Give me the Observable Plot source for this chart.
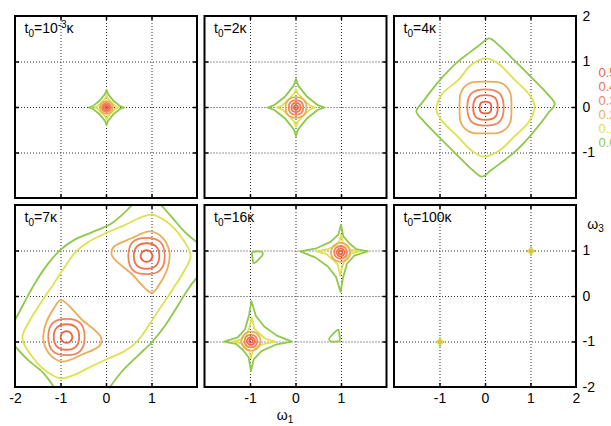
<!DOCTYPE html>
<html><head><meta charset="utf-8">
<script src="https://cdn.jsdelivr.net/npm/d3@7"></script>
<script src="https://cdn.jsdelivr.net/npm/@observablehq/plot@0.6"></script>
<style>html,body{margin:0;padding:0;background:#fff;overflow:hidden}svg{display:block}</style>
</head><body><div id="chart"></div>
<script>
// ---------- data ----------
const levels = ["0.5","0.4","0.3","0.2","0.1","0.0"];
const levelColors = ["#ef5f3f","#f0704c","#f0855a","#e9ad5c","#dde24c","#8fc84a"];
const panelCol = [0,1,2,0,1,2];
const panelRow = [0,0,0,1,1,1];
const titleMain = ["10","2","4","7","16","100"];
const titleSup  = ["-3","","","","",""];
const gridValues = [-1,0,1];
const bottomTickLabels = [["-2","-1","0","1"],["-1","0","1"],["-1","0","1","2"]];
const rightTickLabelsTop = ["2","1","0","-1"];
const rightTickLabelsBottom = ["1","0","-1","-2"];
const xAxisName = ["ω","1"];
const yAxisName = ["ω","3"];

// contours: [level, kind (S = star, C = smooth closed, O = open), x,y pairs]
const panel1 = [
 ["0.0","S",[0,.39, .03,.3, .15,.15, .3,.03, .39,0, .3,-.03, .15,-.15, .03,-.3, 0,-.39, -.03,-.3, -.15,-.15, -.3,-.03, -.39,0, -.3,.03, -.15,.15, -.03,.3]],
 ["0.1","S",[0,.27, .025,.2, .11,.11, .2,.025, .27,0, .2,-.025, .11,-.11, .025,-.2, 0,-.27, -.025,-.2, -.11,-.11, -.2,-.025, -.27,0, -.2,.025, -.11,.11, -.025,.2]],
 ["0.2","C",[0,.14, .1,.1, .14,0, .1,-.1, 0,-.14, -.1,-.1, -.14,0, -.1,.1]],
 ["0.3","C",[0,.1, .07,.07, .1,0, .07,-.07, 0,-.1, -.07,-.07, -.1,0, -.07,.07]],
 ["0.4","C",[0,.065, .046,.046, .065,0, .046,-.046, 0,-.065, -.046,-.046, -.065,0, -.046,.046]],
 ["0.5","C",[0,.03, .021,.021, .03,0, .021,-.021, 0,-.03, -.021,-.021, -.03,0, -.021,.021]]
];
const panel2 = [
 ["0.0","S",[0,.63, .05,.48, .24,.24, .48,.05, .63,0, .48,-.05, .24,-.24, .05,-.48, 0,-.63, -.05,-.48, -.24,-.24, -.48,-.05, -.63,0, -.48,.05, -.24,.24, -.05,.48]],
 ["0.1","S",[0,.4, .04,.31, .17,.17, .31,.04, .42,0, .31,-.04, .17,-.17, .04,-.31, 0,-.42, -.04,-.31, -.17,-.17, -.31,-.04, -.43,0, -.31,.04, -.17,.17, -.04,.31]],
 ["0.2","C",[0,.23, .17,.17, .23,0, .17,-.17, 0,-.23, -.17,-.17, -.23,0, -.17,.17]],
 ["0.3","C",[0,.16, .12,.12, .16,0, .12,-.12, 0,-.16, -.12,-.12, -.16,0, -.12,.12]],
 ["0.4","C",[0,.1, .075,.075, .1,0, .075,-.075, 0,-.1, -.075,-.075, -.1,0, -.075,.075]],
 ["0.5","C",[0,.045, .033,.033, .045,0, .033,-.033, 0,-.045, -.033,-.033, -.045,0, -.033,.033]]
];
const panel3 = [
 ["0.0","C",[.08,1.52, .3,1.36, .55,1.12, .85,.82, 1.12,.55, 1.36,.3, 1.52,.08, 1.38,-.12, 1.2,-.36, .95,-.66, .65,-.97, .36,-1.2, .12,-1.38, -.08,-1.52, -.3,-1.36, -.55,-1.12, -.85,-.82, -1.12,-.55, -1.36,-.3, -1.52,-.08, -1.38,.12, -1.2,.36, -.95,.66, -.65,.97, -.36,1.2, -.12,1.38]],
 ["0.1","C",[.03,1.08, .3,.95, .62,.63, .95,.3, 1.08,.03, .95,-.32, .63,-.64, .3,-.95, -.05,-1.08, -.3,-.95, -.62,-.63, -.95,-.3, -1.08,-.05, -.95,.3, -.6,.6, -.3,.95]],
 ["0.2","C",[0,.57, .3,.55, .46,.46, .55,.3, .57,0, .55,-.3, .46,-.46, .3,-.55, 0,-.57, -.3,-.55, -.46,-.46, -.55,-.3, -.57,0, -.55,.3, -.46,.46, -.3,.55]],
 ["0.3","C",[0,.4, .31,.31, .4,0, .31,-.31, 0,-.4, -.31,-.31, -.4,0, -.31,.31]],
 ["0.4","C",[0,.27, .21,.21, .27,0, .21,-.21, 0,-.27, -.21,-.21, -.27,0, -.21,.21]],
 ["0.5","C",[0,.13, .1,.1, .13,0, .1,-.1, 0,-.13, -.1,-.1, -.13,0, -.1,.1]]
];
const panel4 = [
 ["0.0","O",[-2,-.5, -1.8,-.12, -1.55,.33, -1.3,.7, -1.02,1.02, -.7,1.25, -.3,1.42, .1,1.6, .35,1.8, .55,2]],
 ["0.0","O",[.07,-2, .32,-1.67, .69,-1.3, 1.0,-1.0, 1.3,-.62, 1.58,-.18, 1.82,.2, 2,.43]],
 ["0.0","O",[1.21,2, 1.43,1.75, 1.72,1.42, 2,1.18]],
 ["0.0","O",[-2,-1.1, -1.74,-1.38, -1.4,-1.67, -1.15,-2]],
 ["0.1","C",[-1.85,-.92, -1.7,-.55, -1.45,-.15, -1.18,.25, -.95,.6, -.68,.98, -.4,1.2, 0,1.4, .4,1.57, .75,1.74, 1.0,1.8, 1.3,1.66, 1.62,1.34, 1.85,.9, 1.7,.55, 1.45,.15, 1.18,-.25, .95,-.6, .68,-.98, .4,-1.2, 0,-1.38, -.4,-1.57, -.75,-1.74, -1.0,-1.8, -1.3,-1.66, -1.62,-1.34]],
 ["0.2","C",[1.0,.08, .55,.5, .12,.9, .15,1.08, .55,1.28, .95,1.43, 1.2,1.32, 1.38,1.0, 1.35,.65, 1.15,.25]],
 ["0.2","C",[-1.0,-.08, -.55,-.5, -.12,-.9, -.15,-1.08, -.55,-1.28, -.95,-1.43, -1.2,-1.32, -1.38,-1.0, -1.35,-.65, -1.15,-.25]],
 ["0.3","C",[.48,.89, .58,1.2, .88,1.29, 1.18,1.2, 1.28,.89, 1.18,.58, .88,.49, .58,.58]],
 ["0.4","C",[.6,.89, .67,1.1, .88,1.17, 1.09,1.1, 1.16,.89, 1.09,.68, .88,.61, .67,.68]],
 ["0.5","C",[.75,.89, .79,.98, .88,1.02, .97,.98, 1.01,.89, .97,.8, .88,.76, .79,.8]],
 ["0.3","C",[-.48,-.89, -.58,-1.2, -.88,-1.29, -1.18,-1.2, -1.28,-.89, -1.18,-.58, -.88,-.49, -.58,-.58]],
 ["0.4","C",[-.6,-.89, -.67,-1.1, -.88,-1.17, -1.09,-1.1, -1.16,-.89, -1.09,-.68, -.88,-.61, -.67,-.68]],
 ["0.5","C",[-.75,-.89, -.79,-.98, -.88,-1.02, -.97,-.98, -1.01,-.89, -.97,-.8, -.88,-.76, -.79,-.8]]
];
const panel5 = [
 ["0.0","S",[.99,1.58, 1.04,1.32, 1.17,1.17, 1.32,1.04, 1.58,.99, 1.28,.9, 1.12,.72, 1.03,.4, .98,.1, .88,.43, .7,.66, .42,.86, .09,.99, .45,1.06, .76,1.2, .93,1.36]],
 ["0.0","S",[-.99,-1.64, -1.04,-1.34, -1.17,-1.17, -1.32,-1.04, -1.58,-.99, -1.28,-.9, -1.12,-.72, -1.03,-.4, -.98,-.1, -.88,-.43, -.7,-.66, -.42,-.86, -.09,-.99, -.45,-1.06, -.76,-1.2, -.93,-1.38]],
 ["0.0","C",[-.96,.97, -.955,.85, -.93,.73, -.88,.76, -.8,.84, -.73,.92, -.75,.98, -.85,.99]],
 ["0.0","C",[.96,-.97, .955,-.85, .93,-.73, .88,-.76, .8,-.84, .73,-.92, .75,-.98, .85,-.99]],
 ["0.1","S",[.99,1.36, 1.03,1.19, 1.11,1.11, 1.2,1.03, 1.39,.99, 1.2,.94, 1.1,.86, 1.03,.7, .97,.46, .92,.7, .8,.82, .67,.93, .46,.99, .7,1.04, .86,1.1, .95,1.2]],
 ["0.1","S",[-.99,-1.36, -1.03,-1.19, -1.11,-1.11, -1.2,-1.03, -1.39,-.99, -1.2,-.94, -1.1,-.86, -1.03,-.7, -.97,-.46, -.92,-.7, -.8,-.82, -.67,-.93, -.46,-.99, -.7,-1.04, -.86,-1.1, -.95,-1.2]],
 ["0.2","C",[.98,1.18, 1.13,1.12, 1.19,.97, 1.13,.82, .98,.76, .83,.82, .77,.97, .83,1.12]],
 ["0.2","C",[-.99,-.77, -.84,-.83, -.78,-.98, -.84,-1.13, -.99,-1.19, -1.14,-1.13, -1.2,-.98, -1.14,-.83]],
 ["0.3","C",[.98,1.11, 1.08,1.07, 1.12,.97, 1.08,.87, .98,.83, .88,.87, .84,.97, .88,1.07]],
 ["0.3","C",[-.99,-.84, -.89,-.88, -.85,-.98, -.89,-1.08, -.99,-1.12, -1.09,-1.08, -1.13,-.98, -1.09,-.88]],
 ["0.4","C",[.98,1.06, 1.04,1.03, 1.07,.97, 1.04,.91, .98,.88, .92,.91, .89,.97, .92,1.03]],
 ["0.4","C",[-.99,-.89, -.93,-.92, -.9,-.98, -.93,-1.04, -.99,-1.07, -1.05,-1.04, -1.08,-.98, -1.05,-.92]],
 ["0.5","C",[.98,1.01, 1.01,1.0, 1.02,.97, 1.01,.94, .98,.93, .95,.94, .94,.97, .95,1.0]],
 ["0.5","C",[-.99,-.94, -.96,-.95, -.95,-.98, -.96,-1.01, -.99,-1.02, -1.02,-1.01, -1.03,-.98, -1.02,-.95]]
];
const panel6 = [
 ["0.0","S",[1,1.085, 1.02,1.02, 1.085,1, 1.02,.98, 1,.915, .98,.98, .915,1, .98,1.02]],
 ["0.0","S",[-1,-.915, -.98,-.98, -.915,-1, -.98,-1.02, -1,-1.085, -1.02,-1.02, -1.085,-1, -1.02,-.98]],
 ["0.1","C",[1,1.05, 1.035,1.035, 1.05,1, 1.035,.965, 1,.95, .965,.965, .95,1, .965,1.035]],
 ["0.1","C",[-1,-.95, -.965,-.965, -.95,-1, -.965,-1.035, -1,-1.05, -1.035,-1.035, -1.05,-1, -1.035,-.965]],
 ["0.2","C",[1,1.02, 1.014,1.014, 1.02,1, 1.014,.986, 1,.98, .986,.986, .98,1, .986,1.014]],
 ["0.2","C",[-1,-.98, -.986,-.986, -.98,-1, -.986,-1.014, -1,-1.02, -1.014,-1.014, -1.02,-1, -1.014,-.986]]
];

// ---------- layout helpers ----------
const PX_PER_UNIT = 45.5;
const STEP_X = 189.5 / PX_PER_UNIT;   // panel pitch (data units)
const STEP_Y = 189 / PX_PER_UNIT;
const xo = p => panelCol[p] * STEP_X;
const yo = p => (1 - panelRow[p]) * STEP_Y;
const TICK = 4 / PX_PER_UNIT;

const contourSets = [panel1, panel2, panel3, panel4, panel5, panel6];
const rows = [];
contourSets.forEach((set, p) => set.forEach(([lv, kind, pts], k) => {
  for (let i = 0; i < pts.length; i += 2)
    rows.push({p, id: p + "-" + k, lv, kind, x: pts[i], y: pts[i + 1]});
}));
const curveOf = {S: "linear-closed", C: "catmull-rom-closed", O: "catmull-rom"};

const panels = d3.range(6);
const gridData = d3.cross(panels, gridValues).map(([p, v]) => ({p, v}));
const bottomLabels = [];
bottomTickLabels.forEach((labs, c) => labs.forEach(lab => bottomLabels.push({p: 3 + c, lab})));
const rightLabels = rightTickLabelsTop.map(lab => ({p: 2, lab}))
  .concat(rightTickLabelsBottom.map(lab => ({p: 5, lab})));
const titleText = p => "t0=" + titleMain[p] + titleSup[p] + "κ";

const contourMarks = ["S", "C", "O"].map(kind =>
  Plot.line(rows.filter(r => r.kind === kind), {
    x: d => d.x + xo(d.p), y: d => d.y + yo(d.p), z: "id",
    stroke: "lv", strokeWidth: 1.8, curve: curveOf[kind]
  }));

const chart = Plot.plot({
  width: 611, height: 426,
  marginLeft: 15, marginRight: 35, marginTop: 16, marginBottom: 39,
  x: {domain: [-2, 2 + 2 * STEP_X], axis: null},
  y: {domain: [-2, 2 + STEP_Y], axis: null},
  color: {domain: levels, range: levelColors},
  style: {fontFamily: "'Liberation Sans', Arial, Helvetica, sans-serif", fontSize: "14px", background: "#fff", overflow: "visible"},
  marks: [
    Plot.ruleX(gridData, {x: d => d.v + xo(d.p), y1: d => -2 + yo(d.p), y2: d => 2 + yo(d.p), stroke: "#333", strokeDasharray: "1,2", strokeWidth: 1}),
    Plot.ruleY(gridData, {y: d => d.v + yo(d.p), x1: d => -2 + xo(d.p), x2: d => 2 + xo(d.p), stroke: "#333", strokeDasharray: "1,2", strokeWidth: 1}),
    ...contourMarks,
    Plot.ruleX(gridData, {x: d => d.v + xo(d.p), y1: d => -2 + yo(d.p), y2: d => -2 + yo(d.p) + TICK, stroke: "#000", strokeWidth: 1.5}),
    Plot.ruleX(gridData, {x: d => d.v + xo(d.p), y1: d => 2 + yo(d.p) - TICK, y2: d => 2 + yo(d.p), stroke: "#000", strokeWidth: 1.5}),
    Plot.ruleY(gridData, {y: d => d.v + yo(d.p), x1: d => -2 + xo(d.p), x2: d => -2 + xo(d.p) + TICK, stroke: "#000", strokeWidth: 1.5}),
    Plot.ruleY(gridData, {y: d => d.v + yo(d.p), x1: d => 2 + xo(d.p) - TICK, x2: d => 2 + xo(d.p), stroke: "#000", strokeWidth: 1.5}),
    Plot.rect(panels, {x1: p => -2 + xo(p), x2: p => 2 + xo(p), y1: p => -2 + yo(p), y2: p => 2 + yo(p), fill: "none", stroke: "#000", strokeWidth: 2}),
    Plot.text(panels, {x: p => -2 + xo(p), y: p => 2 + yo(p), dx: 9, dy: 12, textAnchor: "start", text: titleText, fill: "#000"}),
    Plot.text(bottomLabels, {x: d => Number(d.lab) + xo(d.p), y: d => -2 + yo(d.p), dy: 11, text: "lab", fill: "#000"}),
    Plot.text(rightLabels, {x: d => 2 + xo(d.p), y: d => Number(d.lab) + yo(d.p), dx: 6, textAnchor: "start", text: "lab", fill: "#000"}),
    Plot.text([xAxisName.join("")], {x: () => xo(4), y: () => -2 + yo(4), dx: -11, dy: 28, text: d => d, fill: "#000"}),
    Plot.text([yAxisName.join("")], {x: () => 2 + xo(5), y: () => 2 + yo(5), dx: 19, dy: 19, text: d => d, fill: "#000"}),
    Plot.text(levels, {x: () => 2 + xo(2), y: (d, i) => 0.77 - 0.31 * i + yo(2), dx: 22, textAnchor: "start", fontSize: 13, text: d => d, fill: d => d})
  ]
});

// rich text: subscripts / superscripts
const titles = new Map(panels.map(p => [titleText(p), p]));
const axes = new Map([[xAxisName.join(""), xAxisName], [yAxisName.join(""), yAxisName]]);
d3.select(chart).selectAll("text").each(function() {
  const s = this.textContent;
  if (titles.has(s)) {
    const i = titles.get(s);
    const t = d3.select(this).text("");
    t.append("tspan").text("t");
    t.append("tspan").attr("font-size", 10).attr("dy", 4).text("0");
    t.append("tspan").attr("dy", -4).text("=" + titleMain[i]);
    if (titleSup[i]) {
      t.append("tspan").attr("font-size", 10).attr("dy", -5).text(titleSup[i]);
      t.append("tspan").attr("dy", 5).text("κ");
    } else t.append("tspan").text("κ");
  } else if (axes.has(s)) {
    const [a, b] = axes.get(s);
    const t = d3.select(this).text("");
    t.append("tspan").text(a);
    t.append("tspan").attr("font-size", 10).attr("dy", 3).text(b);
  }
});
document.getElementById("chart").append(chart);
</script></body></html>
